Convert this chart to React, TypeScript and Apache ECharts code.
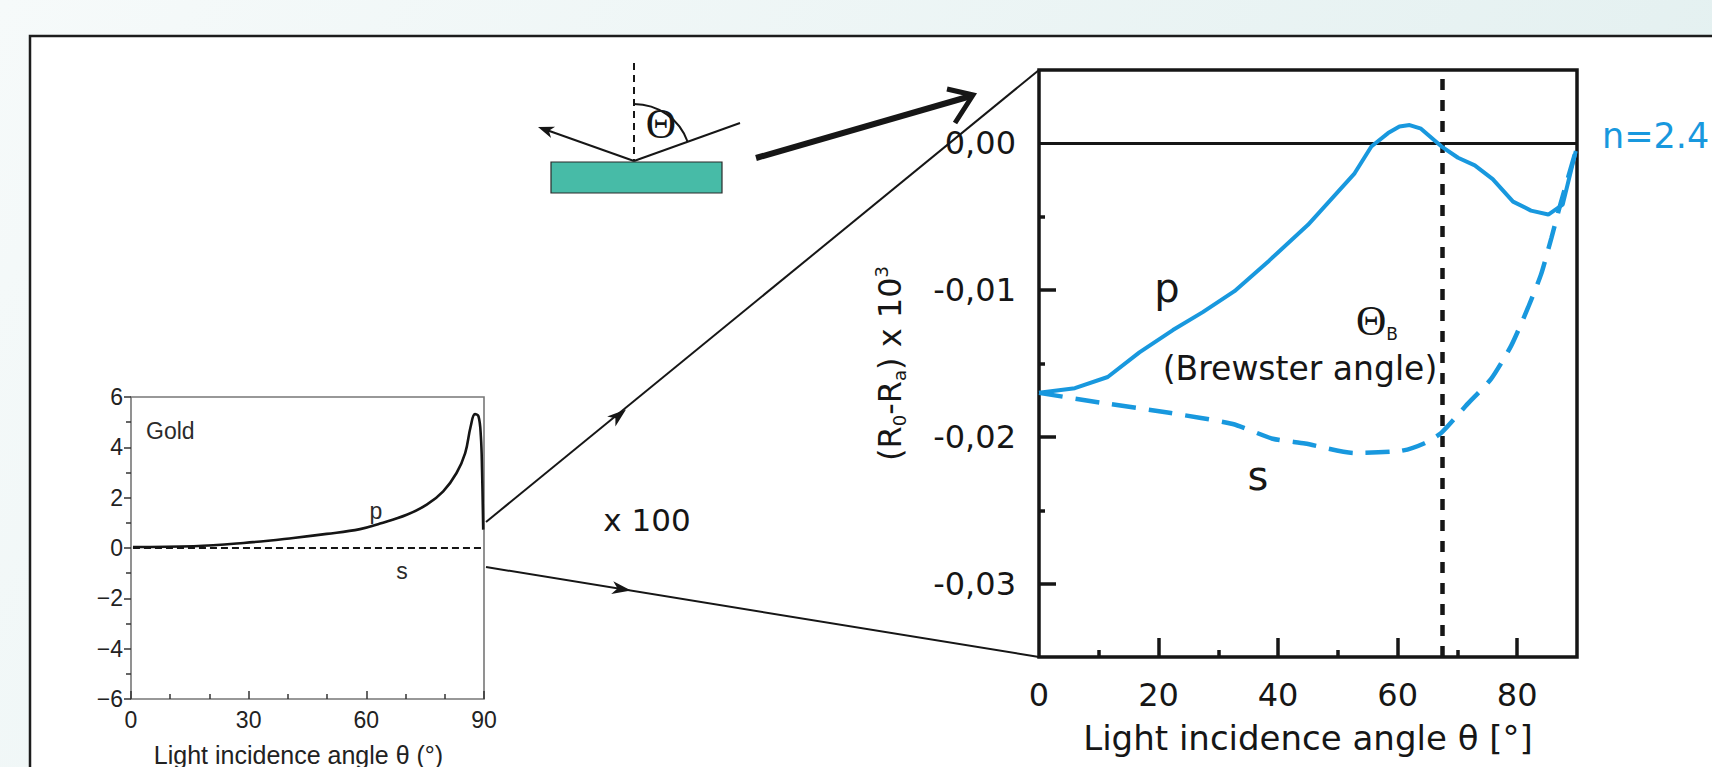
import React, { useEffect, useRef } from 'react';
import * as echarts from 'echarts';

// ---------- Data ----------
// Left small chart (Gold), p-polarisation
const goldAngles = [0.5, 16, 28.7, 41.4, 49.9, 58.4, 63.5, 70.3, 75.4, 79.6, 83.0, 85.2, 86.6, 87.7, 88.6, 89.2, 89.5, 89.8];
const goldP = [0.04, 0.07, 0.2, 0.4, 0.56, 0.75, 0.97, 1.32, 1.72, 2.25, 2.98, 3.77, 4.83, 5.32, 5.23, 4.44, 3.11, 0.73];
// Left small chart, s-polarisation
const goldSAngles = [0.5, 90];
const goldS = [0, 0];

// Right chart (n = 2.4), p-polarisation
const pAngles = [0, 6.0, 11.5, 16.8, 22.4, 27.4, 32.7, 38.5, 45.0, 52.8, 55.6, 58.4, 60.3, 62.0, 63.9, 67.3, 70.1, 72.9, 75.9, 79.3, 82.3, 85.2, 87.6, 89.8];
const pValues = [-0.017, -0.01668, -0.01592, -0.01424, -0.01272, -0.0115, -0.01007, -0.00799, -0.00555, -0.00204, -0.00021, 0.0007, 0.00115, 0.00125, 0.001, -0.0002, -0.00098, -0.0015, -0.00244, -0.00397, -0.00458, -0.00485, -0.00418, -0.00052];
// Right chart, s-polarisation
const sAngles = [0, 10.7, 21.8, 32.4, 39.1, 44.5, 52.8, 60.6, 64.5, 67.3, 71.7, 75.6, 79.0, 81.8, 84.0, 85.7, 87.3, 89.8];
const sValues = [-0.017, -0.01769, -0.01836, -0.01912, -0.02013, -0.02045, -0.0211, -0.02095, -0.02043, -0.01973, -0.01775, -0.01607, -0.01378, -0.0112, -0.00891, -0.00647, -0.00403, -0.00052];

const brewsterAngle = 67.4;

// Tick values
const leftXTicks = [0, 30, 60, 90];
const rightXLabels = [0, 20, 40, 60, 80];
const rightXMajor = [20, 40, 60, 80];
const rightXMinor = [10, 30, 50, 70];
const rightYLabels = [0, -0.01, -0.02, -0.03];
const rightYMajor = [-0.01, -0.02, -0.03];
const rightYMinor = [-0.005, -0.015, -0.025];

const BLUE = '#1898de';
const INK = '#161616';
const SANS = 'DejaVu Sans';
const ARIAL = 'Liberation Sans';

function zip(xs: number[], ys: number[]) {
  return xs.map((x, i) => [x, ys[i]]);
}

function arrowHead(tx: number, ty: number, dx: number, dy: number, len: number, half: number) {
  const L = Math.hypot(dx, dy);
  const ux = dx / L;
  const uy = dy / L;
  const bx = tx - ux * len;
  const by = ty - uy * len;
  const px = -uy;
  const py = ux;
  return [
    [tx, ty],
    [bx + px * half, by + py * half],
    [tx - ux * len * 0.72, ty - uy * len * 0.72],
    [bx - px * half, by - py * half],
  ];
}

export default function App() {
  const ref = useRef<HTMLDivElement>(null);

  useEffect(() => {
    if (!ref.current) return;
    const chart = echarts.init(ref.current, undefined, { renderer: 'svg' });

    const leftTickStyle = { color: '#333', width: 1.5 };
    const rightTickStyle = { color: INK, width: 3.5 };

    const graphic: any[] = [
      // main white frame of the slide
      {
        type: 'rect', z: -5,
        shape: { x: 30, y: 36, width: 1720, height: 760 },
        style: { fill: '#ffffff', stroke: '#1c1c1c', lineWidth: 2.5 },
      },
      // substrate
      {
        type: 'rect',
        shape: { x: 551, y: 162, width: 171, height: 31 },
        style: { fill: '#47bba7', stroke: '#2a2a2a', lineWidth: 1.2 },
      },
      // normal (dashed)
      {
        type: 'line',
        shape: { x1: 634, y1: 63, x2: 634, y2: 161 },
        style: { stroke: INK, lineWidth: 2, lineDash: [7, 5] },
      },
      // incident ray
      {
        type: 'line',
        shape: { x1: 634, y1: 161, x2: 740, y2: 123 },
        style: { stroke: INK, lineWidth: 2 },
      },
      // reflected ray
      {
        type: 'line',
        shape: { x1: 634, y1: 161, x2: 548, y2: 130.5 },
        style: { stroke: INK, lineWidth: 2 },
      },
      {
        type: 'polygon',
        shape: { points: arrowHead(538, 127, -96, -34, 16, 6) },
        style: { fill: INK },
      },
      // angle arc
      {
        type: 'arc',
        shape: { cx: 634, cy: 161, r: 57, startAngle: -Math.PI / 2, endAngle: -0.345, clockwise: true },
        style: { stroke: INK, lineWidth: 2, fill: 'none' },
      },
      {
        type: 'text', x: 661, y: 124,
        style: { text: 'Θ', font: '42px "Liberation Serif"', fill: INK, align: 'center', verticalAlign: 'middle' },
      },
      // big arrow
      {
        type: 'line',
        shape: { x1: 756, y1: 158, x2: 971, y2: 96 },
        style: { stroke: INK, lineWidth: 6 },
      },
      {
        type: 'polyline',
        shape: { points: [[947, 89], [973, 95], [955, 123]] },
        style: { stroke: INK, lineWidth: 5, fill: 'none' },
      },
      // connector lines (zoom)
      {
        type: 'line', z: 5,
        shape: { x1: 486, y1: 522, x2: 1039, y2: 70 },
        style: { stroke: INK, lineWidth: 2 },
      },
      {
        type: 'polygon', z: 5,
        shape: { points: arrowHead(626, 409.5, 553, -452, 19, 6.5) },
        style: { fill: INK },
      },
      {
        type: 'line', z: 5,
        shape: { x1: 486, y1: 567, x2: 1039, y2: 657 },
        style: { stroke: INK, lineWidth: 2 },
      },
      {
        type: 'polygon', z: 5,
        shape: { points: arrowHead(631, 590.6, 553, 90, 19, 6.5) },
        style: { fill: INK },
      },
      {
        type: 'text', x: 647, y: 520,
        style: { text: 'x 100', font: `31px "${SANS}"`, fill: INK, align: 'center', verticalAlign: 'middle' },
      },
      // left chart annotations
      {
        type: 'text', x: 146, y: 431,
        style: { text: 'Gold', font: `23px "${ARIAL}"`, fill: '#2a2a2a', align: 'left', verticalAlign: 'middle' },
      },
      {
        type: 'text', x: 376, y: 511,
        style: { text: 'p', font: `23px "${ARIAL}"`, fill: '#2a2a2a', align: 'center', verticalAlign: 'middle' },
      },
      {
        type: 'text', x: 402, y: 571,
        style: { text: 's', font: `23px "${ARIAL}"`, fill: '#2a2a2a', align: 'center', verticalAlign: 'middle' },
      },
      // right chart annotations
      {
        type: 'text', x: 1167, y: 288,
        style: { text: 'p', font: `40px "${SANS}"`, fill: INK, align: 'center', verticalAlign: 'middle' },
      },
      {
        type: 'text', x: 1258, y: 476,
        style: { text: 's', font: `40px "${SANS}"`, fill: INK, align: 'center', verticalAlign: 'middle' },
      },
      {
        type: 'text', x: 1377, y: 321,
        style: {
          text: '{t|Θ}{b|B}', align: 'center', verticalAlign: 'middle',
          rich: {
            t: { fontFamily: 'Liberation Serif', fontSize: 42, fill: INK, lineHeight: 42 },
            b: { fontFamily: SANS, fontSize: 17, fill: INK, lineHeight: 17, verticalAlign: 'bottom' },
          },
        },
      },
      {
        type: 'text', x: 1300, y: 368,
        style: { text: '(Brewster angle)', font: `33px "${SANS}"`, fill: INK, align: 'center', verticalAlign: 'middle' },
      },
      {
        type: 'text', x: 1602, y: 136,
        style: { text: 'n=2.4', font: `35px "${SANS}"`, fill: BLUE, align: 'left', verticalAlign: 'middle' },
      },
    ];

    const option: any = {
      animation: false,
      backgroundColor: new echarts.graphic.LinearGradient(0, 0, 1, 0.3, [
        { offset: 0, color: '#f6fafa' },
        { offset: 1, color: '#e3f0f0' },
      ]),
      textStyle: { fontFamily: SANS },
      grid: [
        { left: 131, top: 397, width: 353, height: 302, show: true, borderColor: '#777', borderWidth: 1.6, backgroundColor: 'transparent', outerBoundsMode: 'none', containLabel: false },
        { left: 1039, top: 70, width: 538, height: 587, show: true, borderColor: INK, borderWidth: 3.5, backgroundColor: 'transparent', outerBoundsMode: 'none', containLabel: false },
      ],
      xAxis: [
        {
          gridIndex: 0, type: 'value', min: 0, max: 90, interval: 30, position: 'bottom',
          axisLine: { show: false, onZero: false },
          axisTick: { inside: true, length: 8, lineStyle: leftTickStyle, customValues: leftXTicks },
          minorTick: { show: true, splitNumber: 3, length: 5, lineStyle: leftTickStyle },
          splitLine: { show: false },
          axisLabel: { fontFamily: ARIAL, fontSize: 23, color: '#222', margin: 9, customValues: leftXTicks },
          name: 'Light incidence angle θ (°)', nameLocation: 'middle', nameGap: 43,
          nameTextStyle: { fontFamily: ARIAL, fontSize: 25, color: '#222', padding: [0, 18, 0, 0] },
        },
        {
          gridIndex: 1, type: 'value', min: 0, max: 90, position: 'bottom',
          axisLine: { show: false, onZero: false },
          axisTick: { inside: true, length: 19, lineStyle: rightTickStyle, customValues: rightXMajor },
          splitLine: { show: false },
          axisLabel: { fontFamily: SANS, fontSize: 32, color: INK, margin: 22, customValues: rightXLabels },
          name: 'Light incidence angle θ [°]', nameLocation: 'middle', nameGap: 64,
          nameTextStyle: { fontFamily: SANS, fontSize: 34, color: INK },
        },
        {
          gridIndex: 1, type: 'value', min: 0, max: 90, position: 'bottom',
          axisLine: { show: false, onZero: false },
          axisTick: { inside: true, length: 7, lineStyle: rightTickStyle, customValues: rightXMinor },
          splitLine: { show: false },
          axisLabel: { show: false },
        },
      ],
      yAxis: [
        {
          gridIndex: 0, type: 'value', min: -6, max: 6, interval: 2, position: 'left',
          axisLine: { show: false, onZero: false },
          axisTick: { inside: false, length: 7, lineStyle: leftTickStyle },
          minorTick: { show: true, splitNumber: 2, length: 5, lineStyle: leftTickStyle },
          splitLine: { show: false },
          axisLabel: {
            fontFamily: ARIAL, fontSize: 23, color: '#222', margin: 8,
            formatter: (v: number) => String(v).replace('-', '\u2212'),
          },
        },
        {
          gridIndex: 1, type: 'value', min: -0.035, max: 0.005, position: 'left',
          axisLine: { show: false, onZero: false },
          axisTick: { inside: true, length: 17, lineStyle: rightTickStyle, customValues: rightYMajor },
          splitLine: { show: false },
          axisLabel: {
            fontFamily: SANS, fontSize: 32, color: INK, margin: 23, customValues: rightYLabels,
            formatter: (v: number) => (Math.abs(v) < 1e-9 ? '0,00' : v.toFixed(2).replace('.', ',')),
          },
          name: '(R{sub|0}-R{sub|a}) x 10{sup|3}', nameLocation: 'middle', nameRotate: 90, nameGap: 131,
          nameTextStyle: {
            fontFamily: SANS, fontSize: 32, color: INK, lineHeight: 36,
            rich: {
              sub: { fontFamily: SANS, fontSize: 18, color: INK, lineHeight: 17, verticalAlign: 'bottom' },
              sup: { fontFamily: SANS, fontSize: 18, color: INK, lineHeight: 17, verticalAlign: 'top' },
            },
          },
        },
        {
          gridIndex: 1, type: 'value', min: -0.035, max: 0.005, position: 'left',
          axisLine: { show: false, onZero: false },
          axisTick: { inside: true, length: 6, lineStyle: rightTickStyle, customValues: rightYMinor },
          splitLine: { show: false },
          axisLabel: { show: false },
        },
      ],
      series: [
        {
          name: 'Gold p', type: 'line', xAxisIndex: 0, yAxisIndex: 0,
          data: zip(goldAngles, goldP), showSymbol: false, smooth: 0.4,
          lineStyle: { color: '#151515', width: 2.6 }, silent: true,
        },
        {
          name: 'Gold s', type: 'line', xAxisIndex: 0, yAxisIndex: 0,
          data: zip(goldSAngles, goldS), showSymbol: false,
          lineStyle: { color: '#151515', width: 2.2, type: [7, 4] }, silent: true,
        },
        {
          name: 'p', type: 'line', xAxisIndex: 1, yAxisIndex: 1,
          data: zip(pAngles, pValues), showSymbol: false, z: 4,
          lineStyle: { color: BLUE, width: 4 }, silent: true,
          markLine: {
            symbol: ['none', 'none'], silent: true, label: { show: false }, z: 3,
            data: [
              { yAxis: 0, lineStyle: { color: INK, width: 3, type: 'solid' } },
              { xAxis: brewsterAngle, lineStyle: { color: INK, width: 4.5, type: [11, 10] } },
            ],
          },
        },
        {
          name: 's', type: 'line', xAxisIndex: 1, yAxisIndex: 1,
          data: zip(sAngles, sValues), showSymbol: false, smooth: 0.2, z: 4,
          lineStyle: { color: BLUE, width: 4.5, type: [24, 13] }, silent: true,
        },
      ],
      graphic,
    };

    chart.setOption(option);
    return () => {
      chart.dispose();
    };
  }, []);

  return (
    <div
      ref={ref}
      style={{ position: 'absolute', left: 0, top: 0, width: 1712, height: 767 }}
    />
  );
}
